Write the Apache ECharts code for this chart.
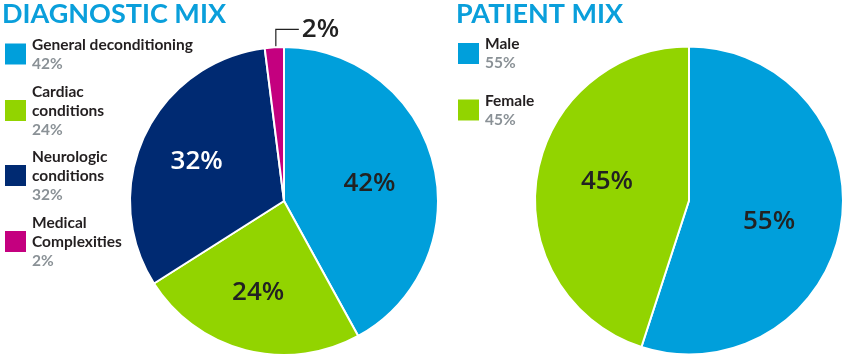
<!DOCTYPE html>
<html>
<head>
<meta charset="utf-8">
<script src="https://cdn.jsdelivr.net/npm/echarts@6/dist/echarts.min.js"></script>
<style>html,body{margin:0;padding:0;background:#fff}#c{width:850px;height:362px}</style>
</head>
<body>
<div id="c"></div>
<script>
// Data
const diagTitle = 'DIAGNOSTIC MIX';
const diagCategories = ['General deconditioning', 'Cardiac\nconditions', 'Neurologic\nconditions', 'Medical\nComplexities'];
const diagValues = [42, 24, 32, 2];
const patTitle = 'PATIENT MIX';
const patCategories = ['Male', 'Female'];
const patValues = [55, 45];

// Styles / layout
const diagColors = ['#009fdb', '#92d400', '#002a72', '#c4007f'];
const patColors = ['#009fdb', '#92d400'];
const diagLabelColors = ['#222', '#222', '#fff', '#222'];
const patLabelColors = ['#222', '#222'];
const diagNudge = [[8, 2], [-6, 14], [-15, -5], [0, 0]];
const patNudge = [[1, 9], [-3, -6]];
const diagLegendCenters = [55.5, 112, 177, 243];
const patLegendCenters = [55, 111.5];
const LH = 19;

const FONT = 'Lato';
const NUMFONT = 'Open Sans';
const chart = echarts.init(document.getElementById('c'), null, {renderer: 'canvas'});

function buildData(cats, vals, colors, labelColors, nudge) {
  return cats.map((n, i) => ({
    name: n, value: vals[i],
    itemStyle: {color: colors[i]},
    label: {color: labelColors[i], offset: nudge[i]}
  }));
}

const legendText = {
  rich: {
    n: {fontFamily: FONT, fontWeight: 'bold', fontSize: 15.5, color: '#231f20', lineHeight: LH},
    p: {fontFamily: FONT, fontWeight: 'bold', fontSize: 15.5, color: '#8a9196', lineHeight: LH}
  }
};

function buildLegends(cats, vals, centers, left) {
  return cats.map((name, i) => {
    const lines = name.split('\n').length + 1;
    return {
      orient: 'vertical', left: left, top: centers[i] - lines * LH / 2, padding: 0,
      itemWidth: 23, itemHeight: 23, itemGap: 0, icon: 'rect', selectedMode: false,
      data: [name],
      formatter: () => '{n|' + name + '}\n{p|' + vals[i] + '%}',
      textStyle: legendText
    };
  });
}

const diagData = buildData(diagCategories, diagValues, diagColors, diagLabelColors, diagNudge);
diagData[3].label = {position: 'outside', color: '#222'};
diagData[3].labelLine = {show: true};

const labelStyle = {show: true, position: 'inside', formatter: '{c}%',
  fontFamily: NUMFONT, fontWeight: 600, fontSize: 26, color: '#222'};

chart.setOption({
  animation: false,
  title: [
    {text: diagTitle, left: 2, top: 1, padding: 0,
     textStyle: {fontFamily: FONT, fontWeight: 'bold', fontSize: 27, color: '#0a9fdb'}},
    {text: patTitle, left: 456, top: 1, padding: 0,
     textStyle: {fontFamily: FONT, fontWeight: 'bold', fontSize: 27, color: '#0a9fdb'}}
  ],
  legend: buildLegends(diagCategories, diagValues, diagLegendCenters, 3)
    .concat(buildLegends(patCategories, patValues, patLegendCenters, 456)),
  series: [
    {
      type: 'pie', center: [284, 201], radius: 154, startAngle: 90, clockwise: true,
      silent: true, avoidLabelOverlap: false,
      itemStyle: {borderColor: '#fff', borderWidth: 2},
      label: labelStyle,
      labelLine: {show: false, lineStyle: {color: '#222', width: 1.2}},
      labelLayout: function (p) {
        if (p.dataIndex !== 3 || !p.labelLinePoints) return {};
        const e = p.labelLinePoints[0];
        const x = e[0] + 1.5, yTop = e[1] - 18;
        return {
          x: x + 26, y: yTop, align: 'left', verticalAlign: 'middle',
          labelLinePoints: [[x, e[1] + 25], [x, yTop], [x + 23, yTop]]
        };
      },
      data: diagData
    },
    {
      type: 'pie', center: [689, 200.5], radius: 154, startAngle: 90, clockwise: true,
      silent: true, avoidLabelOverlap: false,
      itemStyle: {borderColor: '#fff', borderWidth: 2},
      label: labelStyle,
      labelLine: {show: false},
      data: buildData(patCategories, patValues, patColors, patLabelColors, patNudge)
    }
  ]
});
</script>
</body>
</html>
